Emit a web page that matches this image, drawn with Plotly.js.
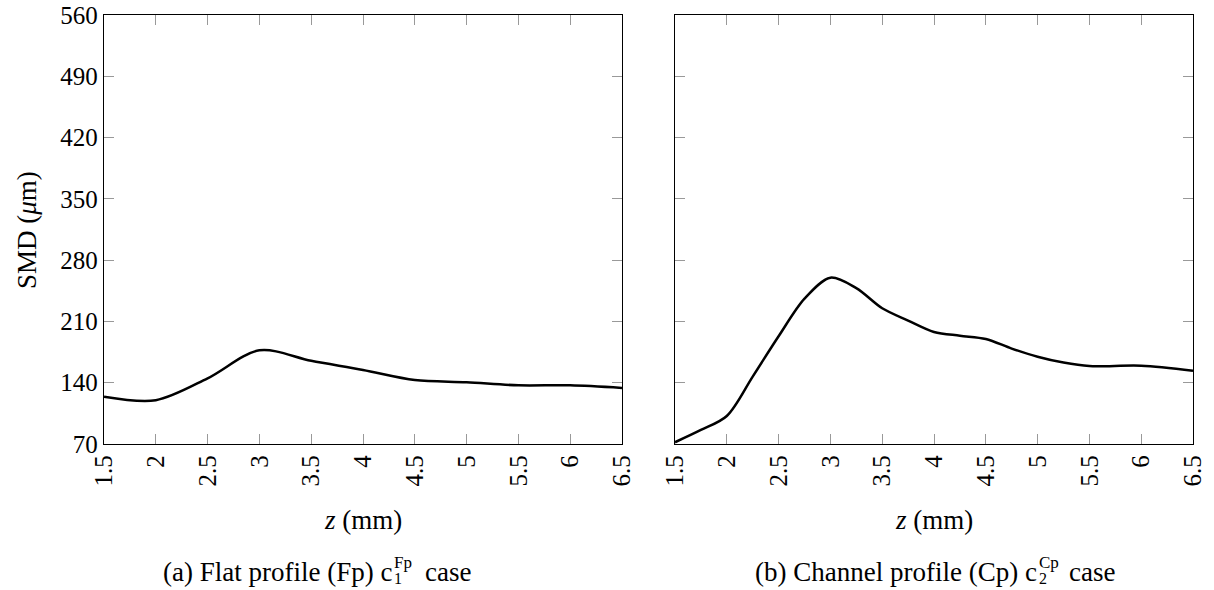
<!DOCTYPE html>
<html><head><meta charset="utf-8">
<script src="https://cdn.plot.ly/plotly-3.0.1.min.js"></script>
<style>html,body{margin:0;padding:0;background:#fff}#chart{width:1214px;height:590px}</style>
</head><body><div id="chart"></div>
<script>
// Flat profile (Fp) c1 case
const zFp = [1.5, 2.0, 2.5, 3.0, 3.5, 4.0, 4.5, 5.0, 5.5, 6.0, 6.5];
const smdFp = [124, 120, 145, 177, 165, 154.5, 143, 140.5, 137, 137, 134];
// Channel profile (Cp) c2 case
const zCp = [1.5, 1.75, 2.0, 2.25, 2.5, 2.75, 3.0, 3.25, 3.5, 3.75, 4.0, 4.25, 4.5, 4.75, 5.0, 5.25, 5.5, 6.0, 6.5];
const smdCp = [72, 86, 102, 147, 193, 236, 260, 248, 225, 211, 198, 193.7, 190, 179, 169.7, 163, 159, 159.4, 153.7];
const xTicks = [1.5, 2, 2.5, 3, 3.5, 4, 4.5, 5, 5.5, 6, 6.5];
const yTicks = [70, 140, 210, 280, 350, 420, 490, 560];

const FONT = "'Liberation Serif', 'Times New Roman', serif";
const W = 1214, H = 590;
const px = v => v / W, py = v => 1 - v / H;

const lineStyle = {color: '#000', width: 2.5, shape: 'spline', smoothing: 0.9};
const traces = [
  {x: zFp, y: smdFp, xaxis: 'x', yaxis: 'y', mode: 'lines', line: lineStyle, hoverinfo: 'skip'},
  {x: zCp, y: smdCp, xaxis: 'x2', yaxis: 'y2', mode: 'lines', line: lineStyle, hoverinfo: 'skip'}
];

const tickFont = {family: FONT, size: 25, color: '#000'};
const xBase = {
  range: [1.5, 6.5], tickvals: xTicks, ticktext: xTicks.map(String), tickangle: -90,
  ticks: 'inside', ticklen: 10, tickcolor: '#999', tickwidth: 1,
  showline: true, linecolor: '#000', linewidth: 1.2, mirror: 'ticks',
  showgrid: false, zeroline: false, tickfont: tickFont
};
const yBase = {
  range: [70, 560], tickvals: yTicks, ticktext: yTicks.map(String),
  ticks: 'inside', ticklen: 10, tickcolor: '#999', tickwidth: 1,
  showline: true, linecolor: '#000', linewidth: 1.2, mirror: 'ticks',
  showgrid: false, zeroline: false, tickfont: tickFont
};
const yDom = [py(444), py(15)];

function ann(text, x, y, size, xa, extra) {
  return Object.assign({text: text, x: px(x), y: py(y), xref: 'paper', yref: 'paper',
    xanchor: xa || 'center', yanchor: 'middle', showarrow: false, borderpad: 0,
    font: {family: FONT, size: size, color: '#000'}}, extra || {});
}

const layout = {
  width: W, height: H, margin: {l: 0, r: 0, t: 0, b: 0},
  paper_bgcolor: '#fff', plot_bgcolor: '#fff', showlegend: false,
  xaxis: Object.assign({}, xBase, {domain: [px(104), px(622)], anchor: 'y'}),
  yaxis: Object.assign({}, yBase, {domain: yDom, anchor: 'x'}),
  xaxis2: Object.assign({}, xBase, {domain: [px(675), px(1193)], anchor: 'y2'}),
  yaxis2: Object.assign({}, yBase, {domain: yDom, anchor: 'x2', showticklabels: false}),
  annotations: [
    ann('SMD (<i>μ</i>m)', 27, 230, 27, 'center', {textangle: -90}),
    ann('<i>z</i> (mm)', 363, 520, 27),
    ann('<i>z</i> (mm)', 934, 520, 27),
    // caption (a)
    ann('(a) Flat profile (Fp) c', 393, 572, 27, 'right'),
    ann('Fp', 393, 562, 17, 'left'),
    ann('1', 393, 578, 16, 'left'),
    ann('case', 424, 572, 27, 'left'),
    // caption (b)
    ann('(b) Channel profile (Cp) c', 1038, 572, 27, 'right'),
    ann('Cp', 1038, 562, 17, 'left'),
    ann('2', 1038, 578, 16, 'left'),
    ann('case', 1068, 572, 27, 'left')
  ]
};
Plotly.newPlot('chart', traces, layout, {displayModeBar: false, staticPlot: true});
</script></body></html>
